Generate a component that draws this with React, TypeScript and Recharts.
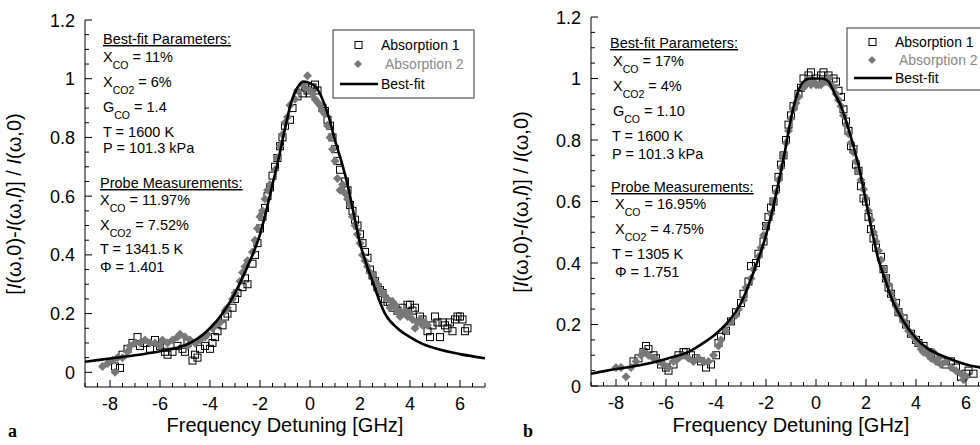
import React from 'react';
import { ScatterChart, Scatter, XAxis, YAxis } from 'recharts';

const FONT = '"Liberation Sans", Arial, Helvetica, sans-serif';

// ---------- axis ticks ----------
const xTicks = [-9, -8.5, -8, -7.5, -7, -6.5, -6, -5.5, -5, -4.5, -4, -3.5, -3, -2.5, -2, -1.5, -1, -0.5, 0, 0.5, 1, 1.5, 2, 2.5, 3, 3.5, 4, 4.5, 5, 5.5, 6, 6.5, 7];
const xLabelTicks = [-8, -6, -4, -2, 0, 2, 4, 6];
const yTicks = [0, 0.05, 0.1, 0.15, 0.2, 0.25, 0.3, 0.35, 0.4, 0.45, 0.5, 0.55, 0.6, 0.65, 0.7, 0.75, 0.8, 0.85, 0.9, 0.95, 1, 1.05, 1.1, 1.15, 1.2];
const yLabelTicks = [0, 0.2, 0.4, 0.6, 0.8, 1, 1.2];

// ---------- panel a ----------
const fitA: [number, number][] = [
  [-9, 0.036], [-8, 0.047], [-7, 0.058], [-6, 0.072], [-5, 0.092], [-4.5, 0.115], [-4, 0.15], [-3.5, 0.2],
  [-3, 0.27], [-2.5, 0.36], [-2, 0.47], [-1.75, 0.55], [-1.5, 0.64], [-1.25, 0.73], [-1, 0.83], [-0.75, 0.92],
  [-0.5, 0.97], [-0.25, 0.99], [0, 0.985], [0.25, 0.97], [0.5, 0.93], [0.75, 0.87], [1, 0.79], [1.25, 0.72],
  [1.5, 0.64], [1.75, 0.54], [2, 0.44], [2.25, 0.37], [2.5, 0.31], [2.75, 0.25], [3, 0.2], [3.5, 0.15],
  [4, 0.12], [4.5, 0.097], [5, 0.082], [6, 0.062], [7, 0.048],
];
const absA1: [number, number][] = [
  [-7.8, 0.02], [-7.6, 0.015], [-7.5, 0.06], [-7.3, 0.08], [-7.1, 0.1], [-6.9, 0.12], [-6.8, 0.09], [-6.6, 0.1],
  [-6.4, 0.08], [-6.2, 0.11], [-6.0, 0.09], [-5.8, 0.07], [-5.7, 0.06], [-5.5, 0.07], [-5.3, 0.09], [-5.1, 0.08],
  [-5.0, 0.07], [-4.9, 0.1], [-4.7, 0.04], [-4.6, 0.06], [-4.5, 0.05], [-4.4, 0.08], [-4.2, 0.09], [-4.0, 0.08],
  [-3.9, 0.1], [-3.8, 0.12], [-3.7, 0.14], [-3.5, 0.16], [-3.4, 0.19], [-3.3, 0.2], [-3.1, 0.22], [-3.0, 0.25],
  [-2.9, 0.27], [-2.7, 0.29], [-2.6, 0.32], [-2.5, 0.3], [-2.3, 0.37], [-2.2, 0.4], [-2.1, 0.44], [-2.0, 0.49],
  [-1.9, 0.53], [-1.8, 0.56], [-1.7, 0.6], [-1.6, 0.63], [-1.5, 0.67], [-1.4, 0.7], [-1.3, 0.73], [-1.2, 0.77],
  [-1.1, 0.8], [-1.0, 0.84], [-0.8, 0.86], [-0.7, 0.9], [-0.5, 0.94], [-0.3, 0.95], [-0.2, 0.97], [-0.1, 0.96],
  [0.0, 0.95], [0.1, 0.97], [0.2, 0.98], [0.3, 0.96], [0.5, 0.9], [0.6, 0.89], [0.7, 0.86], [0.8, 0.84],
  [0.9, 0.8], [1.0, 0.76], [1.1, 0.72], [1.2, 0.69], [1.4, 0.65], [1.5, 0.62], [1.6, 0.57], [1.7, 0.55],
  [1.8, 0.52], [1.9, 0.5], [2.0, 0.47], [2.1, 0.44], [2.2, 0.41], [2.3, 0.39], [2.4, 0.35], [2.5, 0.33],
  [2.6, 0.31], [2.7, 0.29], [2.8, 0.28], [2.9, 0.27], [3.0, 0.25], [3.1, 0.24], [3.2, 0.24], [3.3, 0.22],
  [3.5, 0.21], [3.7, 0.22], [3.9, 0.23], [4.0, 0.23], [4.1, 0.21], [4.2, 0.22], [4.4, 0.19], [4.5, 0.18],
  [4.7, 0.14], [4.8, 0.12], [4.9, 0.16], [5.0, 0.19], [5.1, 0.17], [5.2, 0.12], [5.3, 0.17], [5.4, 0.16],
  [5.5, 0.15], [5.6, 0.17], [5.7, 0.14], [5.8, 0.18], [5.9, 0.19], [6.0, 0.19], [6.1, 0.18], [6.2, 0.14], [6.3, 0.15],
];
const absA2: [number, number][] = [
  [-8.3, 0.02], [-8.1, 0.03], [-7.9, 0.04], [-7.8, 0.0], [-7.7, 0.05], [-7.5, 0.05], [-7.3, 0.07], [-7.2, 0.09],
  [-7.0, 0.1], [-6.8, 0.1], [-6.6, 0.11], [-6.4, 0.1], [-6.2, 0.1], [-6.0, 0.09], [-5.9, 0.11], [-5.7, 0.1],
  [-5.5, 0.11], [-5.3, 0.12], [-5.2, 0.13], [-5.0, 0.12], [-4.9, 0.09], [-4.8, 0.11], [-4.6, 0.1], [-4.4, 0.11],
  [-4.2, 0.12], [-4.1, 0.13], [-3.9, 0.15], [-3.8, 0.16], [-3.6, 0.17], [-3.4, 0.21], [-3.3, 0.22], [-3.1, 0.25],
  [-3.0, 0.27], [-2.8, 0.31], [-2.7, 0.34], [-2.6, 0.36], [-2.5, 0.38], [-2.3, 0.41], [-2.2, 0.45], [-2.1, 0.49],
  [-2.0, 0.53], [-1.9, 0.55], [-1.8, 0.59], [-1.7, 0.62], [-1.6, 0.64], [-1.4, 0.69], [-1.3, 0.73], [-1.2, 0.77],
  [-1.1, 0.81], [-1.0, 0.85], [-0.9, 0.87], [-0.8, 0.91], [-0.6, 0.93], [-0.5, 0.96], [-0.3, 0.98], [-0.2, 0.97],
  [-0.1, 1.01], [0.0, 0.96], [0.1, 0.95], [0.2, 0.93], [0.3, 0.92], [0.4, 0.91], [0.5, 0.89], [0.6, 0.88],
  [0.7, 0.84], [0.8, 0.8], [0.9, 0.76], [1.0, 0.72], [1.1, 0.66], [1.2, 0.62], [1.3, 0.64], [1.4, 0.61],
  [1.5, 0.59], [1.6, 0.57], [1.7, 0.53], [1.8, 0.5], [1.9, 0.47], [2.0, 0.44], [2.1, 0.4], [2.2, 0.38],
  [2.3, 0.36], [2.4, 0.34], [2.5, 0.33], [2.6, 0.31], [2.7, 0.3], [2.8, 0.28], [2.9, 0.27], [3.0, 0.26],
  [3.1, 0.25], [3.2, 0.22], [3.3, 0.24], [3.4, 0.23], [3.5, 0.21], [3.6, 0.19], [3.7, 0.2], [3.8, 0.21],
  [3.9, 0.19], [4.0, 0.2], [4.1, 0.18], [4.2, 0.15], [4.3, 0.17], [4.4, 0.18], [4.5, 0.16], [4.6, 0.17], [4.7, 0.16],
];

// ---------- panel b ----------
const fitB: [number, number][] = [
  [-9, 0.04], [-8, 0.055], [-7, 0.068], [-6, 0.088], [-5, 0.115], [-4.5, 0.14], [-4, 0.17], [-3.5, 0.21],
  [-3, 0.27], [-2.5, 0.37], [-2, 0.49], [-1.75, 0.57], [-1.5, 0.66], [-1.25, 0.76], [-1, 0.87], [-0.75, 0.95],
  [-0.5, 0.99], [-0.25, 1.0], [0, 1.0], [0.25, 1.0], [0.5, 0.99], [0.75, 0.95], [1, 0.91], [1.25, 0.85],
  [1.5, 0.78], [1.75, 0.7], [2, 0.6], [2.25, 0.5], [2.5, 0.41], [2.75, 0.35], [3, 0.29], [3.5, 0.21],
  [4, 0.155], [4.5, 0.12], [5, 0.1], [6, 0.07], [7, 0.055],
];
const absB1: [number, number][] = [
  [-7.3, 0.08], [-7.1, 0.09], [-6.9, 0.11], [-6.8, 0.13], [-6.7, 0.12], [-6.5, 0.1], [-6.4, 0.09], [-6.2, 0.07],
  [-6.0, 0.06], [-5.9, 0.05], [-5.7, 0.07], [-5.5, 0.1], [-5.3, 0.11], [-5.2, 0.11], [-5.0, 0.1], [-4.8, 0.09],
  [-4.6, 0.08], [-4.4, 0.06], [-4.2, 0.07], [-4.0, 0.1], [-3.9, 0.14], [-3.8, 0.16], [-3.6, 0.18], [-3.4, 0.21],
  [-3.2, 0.24], [-3.0, 0.27], [-2.9, 0.3], [-2.7, 0.34], [-2.6, 0.39], [-2.4, 0.4], [-2.3, 0.43], [-2.1, 0.47],
  [-2.0, 0.52], [-1.9, 0.55], [-1.8, 0.58], [-1.7, 0.6], [-1.6, 0.64], [-1.5, 0.68], [-1.4, 0.72], [-1.3, 0.75],
  [-1.2, 0.8], [-1.1, 0.85], [-1.0, 0.88], [-0.9, 0.91], [-0.7, 0.95], [-0.6, 0.97], [-0.5, 1.0], [-0.3, 1.01],
  [-0.2, 1.02], [0.0, 1.0], [0.2, 1.01], [0.3, 1.02], [0.5, 1.01], [0.7, 1.0], [0.8, 0.99], [0.9, 0.96],
  [1.0, 0.94], [1.1, 0.9], [1.2, 0.86], [1.3, 0.83], [1.4, 0.78], [1.5, 0.77], [1.6, 0.72], [1.7, 0.7],
  [1.8, 0.65], [1.9, 0.61], [2.0, 0.6], [2.1, 0.55], [2.2, 0.51], [2.3, 0.48], [2.4, 0.45], [2.6, 0.42],
  [2.7, 0.38], [2.8, 0.35], [2.9, 0.32], [3.0, 0.3], [3.2, 0.27], [3.3, 0.24], [3.5, 0.22], [3.6, 0.2],
  [3.8, 0.17], [4.0, 0.15], [4.1, 0.14], [4.3, 0.13], [4.5, 0.11], [4.6, 0.1], [4.8, 0.09], [5.0, 0.08],
  [5.2, 0.07], [5.4, 0.08], [5.6, 0.06], [5.8, 0.03], [6.0, 0.04], [6.1, 0.05], [6.3, 0.04],
];
const absB2: [number, number][] = [
  [-8.0, 0.06], [-7.8, 0.06], [-7.6, 0.03], [-7.4, 0.06], [-7.2, 0.08], [-7.0, 0.1], [-6.9, 0.11], [-6.7, 0.1],
  [-6.5, 0.09], [-6.3, 0.08], [-6.1, 0.07], [-5.9, 0.06], [-5.7, 0.08], [-5.5, 0.09], [-5.3, 0.1], [-5.1, 0.09],
  [-4.9, 0.08], [-4.7, 0.09], [-4.5, 0.08], [-4.3, 0.08], [-4.1, 0.1], [-3.9, 0.13], [-3.8, 0.15], [-3.6, 0.18],
  [-3.4, 0.21], [-3.2, 0.23], [-3.1, 0.25], [-2.9, 0.28], [-2.8, 0.32], [-2.6, 0.35], [-2.5, 0.38], [-2.3, 0.42],
  [-2.2, 0.45], [-2.1, 0.49], [-2.0, 0.52], [-1.8, 0.56], [-1.7, 0.6], [-1.6, 0.63], [-1.5, 0.67], [-1.4, 0.71],
  [-1.3, 0.75], [-1.2, 0.79], [-1.1, 0.83], [-1.0, 0.87], [-0.9, 0.9], [-0.8, 0.92], [-0.7, 0.94], [-0.5, 0.97],
  [-0.4, 0.98], [-0.3, 0.99], [-0.2, 0.98], [-0.1, 0.99], [0.0, 0.98], [0.1, 0.98], [0.2, 0.98], [0.3, 0.99],
  [0.4, 0.99], [0.5, 1.0], [0.6, 0.98], [0.7, 0.97], [0.8, 0.95], [0.9, 0.93], [1.0, 0.91], [1.1, 0.88],
  [1.2, 0.85], [1.3, 0.82], [1.4, 0.79], [1.5, 0.76], [1.6, 0.73], [1.7, 0.7], [1.8, 0.67], [1.9, 0.64],
  [2.0, 0.61], [2.1, 0.57], [2.2, 0.54], [2.3, 0.5], [2.4, 0.47], [2.5, 0.44], [2.6, 0.41], [2.7, 0.38],
  [2.8, 0.35], [2.9, 0.33], [3.0, 0.3], [3.1, 0.28], [3.2, 0.26], [3.3, 0.24], [3.4, 0.23], [3.5, 0.21],
  [3.6, 0.2], [3.7, 0.18], [3.8, 0.17], [3.9, 0.16], [4.0, 0.15], [4.1, 0.14], [4.2, 0.12], [4.3, 0.11],
  [4.4, 0.12], [4.5, 0.1], [4.6, 0.09], [4.7, 0.11], [4.8, 0.08], [4.9, 0.09], [5.0, 0.07], [5.2, 0.08],
  [5.4, 0.06], [5.6, 0.05], [5.8, 0.04], [5.9, 0.02], [6.0, 0.03],
];

// ---------- annotation texts ----------
const annA = ['Best-fit Parameters:', ['X', 'CO', ' = 11%'], ['X', 'CO2', ' = 6%'], ['G', 'CO', ' = 1.4'], 'T = 1600 K', 'P = 101.3 kPa',
  'Probe Measurements:', ['X', 'CO', ' = 11.97%'], ['X', 'CO2', ' = 7.52%'], 'T = 1341.5 K', '\u03A6 = 1.401'];
const annB = ['Best-fit Parameters:', ['X', 'CO', ' = 17%'], ['X', 'CO2', ' = 4%'], ['G', 'CO', ' = 1.10'], 'T = 1600 K', 'P = 101.3 kPa',
  'Probe Measurements:', ['X', 'CO', ' = 16.95%'], ['X', 'CO2', ' = 4.75%'], 'T = 1305 K', '\u03A6 = 1.751'];
const legendNames = ['Absorption 1', 'Absorption 2', 'Best-fit'];
const xTitle = 'Frequency Detuning [GHz]';

const toPts = (a: [number, number][]) => a.map(([x, y]) => ({ x, y }));
const near = (v: number, arr: number[]) => arr.some((a) => Math.abs(a - v) < 1e-6);
const fmt = (v: number) => (v < 0 ? '-' + String(Math.abs(Math.round(v * 10) / 10)) : String(Math.round(v * 10) / 10));

const BottomTick = (p: any) => {
  const v = p.payload.value;
  const lab = near(v, xLabelTicks);
  return (
    <g>
      <line x1={p.x} x2={p.x} y1={p.y} y2={p.y - (lab ? 7 : 4)} stroke="#000" strokeWidth={1} />
      {lab && (
        <text x={p.x} y={p.y + 23} textAnchor="middle" fontSize={18} fontFamily={FONT} fill="#000">{fmt(v)}</text>
      )}
    </g>
  );
};
const TopTick = (p: any) => {
  const v = p.payload.value;
  const lab = near(v, xLabelTicks);
  return <line x1={p.x} x2={p.x} y1={p.y} y2={p.y + (lab ? 7 : 4)} stroke="#000" strokeWidth={1} />;
};
const LeftTick = (p: any) => {
  const v = p.payload.value;
  const lab = near(v, yLabelTicks);
  return (
    <g>
      <line x1={p.x} x2={p.x + (lab ? 7 : 4)} y1={p.y} y2={p.y} stroke="#000" strokeWidth={1} />
      {lab && (
        <text x={p.x - 10} y={p.y + 6.5} textAnchor="end" fontSize={18} fontFamily={FONT} fill="#000">{fmt(v)}</text>
      )}
    </g>
  );
};
const RightTick = (p: any) => {
  const v = p.payload.value;
  const lab = near(v, yLabelTicks);
  return <line x1={p.x} x2={p.x - (lab ? 7 : 4)} y1={p.y} y2={p.y} stroke="#000" strokeWidth={1} />;
};

const SquareShape = (p: any) => (
  <rect x={p.cx - 3.5} y={p.cy - 3.5} width={7} height={7} fill="none" stroke="#000" strokeWidth={1} />
);
const DiamondShape = (p: any) => (
  <path d={`M${p.cx},${p.cy - 4.5}L${p.cx + 4.5},${p.cy}L${p.cx},${p.cy + 4.5}L${p.cx - 4.5},${p.cy}Z`} fill="#787878" />
);
const NoShape = () => <g />;

function Panel({ fit, a1, a2, yDomain, width, margin, yWidth, xHeight }: any) {
  return (
    <ScatterChart width={width} height={445} margin={margin}>
      <XAxis xAxisId="b" dataKey="x" type="number" domain={[-9, 7]} allowDataOverflow ticks={xTicks} interval={0}
        tickLine={false} tickSize={0} tickMargin={0} tick={BottomTick} height={xHeight} axisLine={{ stroke: '#000' }} />
      <XAxis xAxisId="t" orientation="top" dataKey="x" type="number" domain={[-9, 7]} allowDataOverflow ticks={xTicks} interval={0}
        tickLine={false} tickSize={0} tickMargin={0} tick={TopTick} height={0} axisLine={{ stroke: '#000' }} />
      <YAxis yAxisId="l" dataKey="y" type="number" domain={yDomain} allowDataOverflow ticks={yTicks} interval={0}
        tickLine={false} tickSize={0} tickMargin={0} tick={LeftTick} width={yWidth} axisLine={{ stroke: '#000' }} />
      <YAxis yAxisId="r" orientation="right" dataKey="y" type="number" domain={yDomain} allowDataOverflow ticks={yTicks} interval={0}
        tickLine={false} tickSize={0} tickMargin={0} tick={RightTick} width={0} axisLine={{ stroke: '#000' }} />
      <Scatter xAxisId="b" yAxisId="l" data={toPts(a1)} shape={SquareShape} isAnimationActive={false} />
      <Scatter xAxisId="b" yAxisId="l" data={toPts(a2)} shape={DiamondShape} isAnimationActive={false} />
      <Scatter xAxisId="b" yAxisId="l" data={toPts(fit)} shape={NoShape} line={{ stroke: '#000', strokeWidth: 2.6 }}
        lineJointType="monotoneX" isAnimationActive={false} />
    </ScatterChart>
  );
}

function Annotation({ items, x, ys, xs }: { items: any[]; x: number; ys: number[]; xs: number[] }) {
  return (
    <g fontFamily={FONT} fontSize={14.5} fill="#000">
      {items.map((it, i) => {
        const tx = x + xs[i];
        if (typeof it === 'string') {
          const head = i === 0 || i === 6;
          return (
            <text key={i} x={tx} y={ys[i]} style={{ whiteSpace: 'pre' }} textDecoration={head ? 'underline' : undefined}>{it}</text>
          );
        }
        return (
          <text key={i} x={tx} y={ys[i]} style={{ whiteSpace: 'pre' }}>
            {it[0]}
            <tspan fontSize={10.5} dy={7}>{it[1]}</tspan>
            <tspan dy={-7}>{it[2]}</tspan>
          </text>
        );
      })}
    </g>
  );
}

function Legend({ x, y, w, h, rowYs }: any) {
  return (
    <g fontFamily={FONT} fontSize={14}>
      <rect x={x} y={y} width={w} height={h} fill="#fff" stroke="#333" strokeWidth={1} />
      <rect x={x + 22} y={rowYs[0] - 3.5} width={7} height={7} fill="none" stroke="#000" />
      <text x={x + 48} y={rowYs[0] + 5} fill="#000">{legendNames[0]}</text>
      <path d={`M${x + 25},${rowYs[1] - 4}L${x + 29},${rowYs[1]}L${x + 25},${rowYs[1] + 4}L${x + 21},${rowYs[1]}Z`} fill="#787878" />
      <text x={x + 52} y={rowYs[1] + 5} fill="#888">{legendNames[1]}</text>
      <line x1={x + 7} x2={x + 45} y1={rowYs[2]} y2={rowYs[2]} stroke="#000" strokeWidth={2.6} />
      <text x={x + 48} y={rowYs[2] + 5} fill="#000">{legendNames[2]}</text>
    </g>
  );
}

const YTitle = ({ cx, cy }: any) => (
  <text transform={`translate(${cx},${cy}) rotate(-90)`} textAnchor="middle" fontFamily={FONT} fontSize={20} fill="#000" style={{ whiteSpace: 'pre' }}>
    [<tspan fontStyle="italic">I</tspan>(ω,0)-<tspan fontStyle="italic">I</tspan>(ω,<tspan fontStyle="italic">l</tspan>)] / <tspan fontStyle="italic">I</tspan>(ω,0)
  </text>
);

export default function App() {
  return (
    <div style={{ position: 'absolute', left: 0, top: 0, width: 980, height: 445, overflow: 'hidden', background: '#fff' }}>
      <div style={{ position: 'absolute', left: 0, top: 0, width: 490, height: 445 }}>
        <Panel fit={fitA} a1={absA1} a2={absA2} yDomain={[-0.05, 1.2]} width={490}
          margin={{ top: 20, right: 5, bottom: 0, left: 0 }} yWidth={85} xHeight={58} />
      </div>
      <div style={{ position: 'absolute', left: 490, top: 0, width: 490, height: 445, overflow: 'hidden' }}>
        <Panel fit={fitB} a1={absB1} a2={absB2} yDomain={[0, 1.2]} width={510}
          margin={{ top: 17, right: 9, bottom: 0, left: 0 }} yWidth={101} xHeight={59} />
      </div>
      <svg width={980} height={445} style={{ position: 'absolute', left: 0, top: 0, pointerEvents: 'none' }}>
        <Annotation items={annA} x={103} xs={[0, 0, 0, 0, 0, 0, -3, -3, -3, -3, -3]}
          ys={[44, 62, 87, 112, 137, 153, 188, 205, 230, 254, 272]} />
        <Annotation items={annB} x={610} xs={[0, 3, 3, 3, 2, 2, 1, 5, 5, 2, 5]}
          ys={[48, 66, 91, 116, 141, 159, 192, 209, 234, 259, 277]} />
        <Legend x={333} y={30} w={141} h={68} rowYs={[45, 64, 84]} />
        <Legend x={847} y={28} w={160} h={62} rowYs={[42, 60, 78]} />
        <YTitle cx={21} cy={204} />
        <YTitle cx={528} cy={202} />
        <text x={285} y={432} textAnchor="middle" fontFamily={FONT} fontSize={20} fill="#000">{xTitle}</text>
        <text x={791} y={432} textAnchor="middle" fontFamily={FONT} fontSize={20} fill="#000">{xTitle}</text>
        <text x={8} y={437} fontFamily='"Liberation Serif", "Times New Roman", serif' fontWeight="bold" fontSize={18} fill="#000">a</text>
        <text x={523} y={437} fontFamily='"Liberation Serif", "Times New Roman", serif' fontWeight="bold" fontSize={18} fill="#000">b</text>
      </svg>
    </div>
  );
}
